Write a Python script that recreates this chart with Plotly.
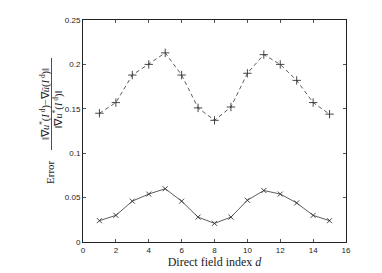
import plotly.graph_objects as go

d = list(range(1, 16))
err_upper = [0.145, 0.157, 0.188, 0.200, 0.213, 0.188, 0.151, 0.137, 0.152,
             0.190, 0.211, 0.200, 0.182, 0.157, 0.144]
err_lower = [0.024, 0.030, 0.046, 0.054, 0.060, 0.046, 0.028, 0.021, 0.028,
             0.047, 0.058, 0.054, 0.044, 0.030, 0.024]
x_ticks = list(range(0, 17, 2))
y_ticks = [0, 0.05, 0.1, 0.15, 0.2, 0.25]
y_tick_labels = ["0", "0.05", "0.1", "0.15", "0.2", "0.25"]

fig = go.Figure()
fig.add_trace(go.Scatter(
    x=d, y=err_upper, mode="lines+markers",
    line=dict(color="#333333", width=0.8, dash="4px,3px"),
    marker=dict(symbol="cross-thin", size=6, line=dict(color="#333333", width=0.9)),
    showlegend=False))
fig.add_trace(go.Scatter(
    x=d, y=err_lower, mode="lines+markers",
    line=dict(color="#333333", width=0.8),
    marker=dict(symbol="x-thin", size=5, line=dict(color="#333333", width=0.9)),
    showlegend=False))

axis_common = dict(
    showgrid=False, zeroline=False, showline=True, linecolor="#222222", linewidth=1,
    mirror="ticks", ticks="inside", ticklen=3, tickcolor="#555555", tickwidth=0.8,
    automargin=False,
    tickfont=dict(family="Liberation Sans, Arial, sans-serif", size=8, color="#222222"),
)

fig.update_xaxes(range=[0, 16], tickvals=x_ticks, ticktext=[str(v) for v in x_ticks],
                 title=dict(text="Direct field index <i>d</i>", standoff=1,
                            font=dict(family="Liberation Serif, serif", size=12, color="#222222")),
                 **axis_common)
fig.update_yaxes(range=[0, 0.25], tickvals=y_ticks, ticktext=y_tick_labels, **axis_common)

serif = dict(family="Liberation Serif, serif", color="#222222")
# y-axis title built from rotated annotations (fraction); plot area 83..346 px, 20..242 px
def px_to_paper_x(px):
    return (px - 83) / 263.0

def px_to_paper_y(py):
    return (242 - py) / 222.0

fig.add_annotation(text="Error", xref="paper", yref="paper",
                   x=px_to_paper_x(50), y=px_to_paper_y(172),
                   textangle=-90, showarrow=False, font=dict(size=11, **serif),
                   xanchor="center", yanchor="middle")
fig.add_annotation(text="‖∇<i>u</i><sup>*</sup>(<i>I</i><sup> d</sup>)−∇<i>ū</i>(<i>I</i><sup> d</sup>)‖",
                   xref="paper", yref="paper",
                   x=px_to_paper_x(45), y=px_to_paper_y(104),
                   textangle=-90, showarrow=False, font=dict(size=10.5, **serif),
                   xanchor="center", yanchor="middle")
fig.add_annotation(text="‖∇<i>u</i><sup>*</sup>(<i>I</i><sup> d</sup>)‖",
                   xref="paper", yref="paper",
                   x=px_to_paper_x(57.5), y=px_to_paper_y(110),
                   textangle=-90, showarrow=False, font=dict(size=10.5, **serif),
                   xanchor="center", yanchor="middle")
fig.add_shape(type="line", xref="paper", yref="paper",
              x0=px_to_paper_x(51.5), x1=px_to_paper_x(51.5),
              y0=px_to_paper_y(150), y1=px_to_paper_y(58),
              line=dict(color="#222222", width=0.8))

fig.update_layout(
    width=382, height=273,
    margin=dict(l=83, r=36, t=20, b=31, pad=0),
    paper_bgcolor="white", plot_bgcolor="white",
)

fig.write_html("out.html", config={"displayModeBar": False},
               post_script="document.body.style.margin='0';")
